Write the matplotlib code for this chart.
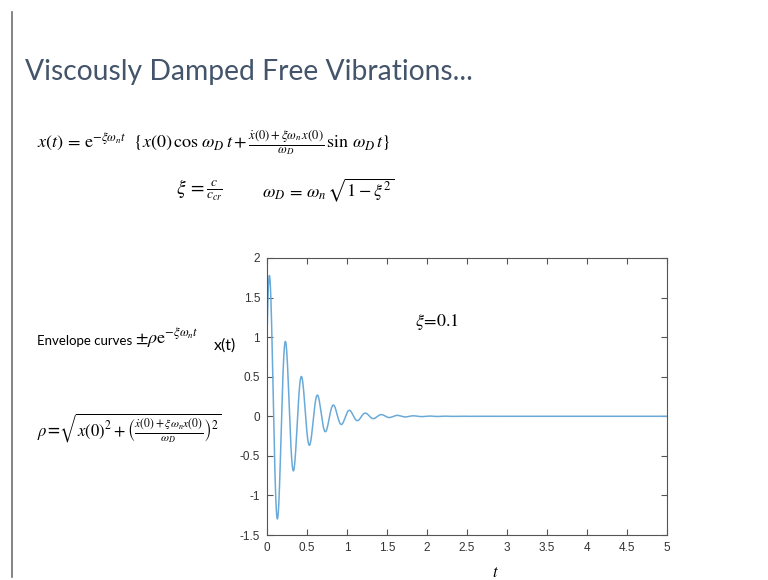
import numpy as np
import matplotlib
matplotlib.use("Agg")
import matplotlib.pyplot as plt
from matplotlib.lines import Line2D

zeta = 0.1          # damping ratio, written on the chart
omega_n = 31.6      # rad/s, period of about 0.2 s
x0 = 1.0            # initial displacement
v0 = 50.0           # initial velocity
t_end = 5.0

x_ticks = [0, 0.5, 1, 1.5, 2, 2.5, 3, 3.5, 4, 4.5, 5]
y_ticks = [-1.5, -1, -0.5, 0, 0.5, 1, 1.5, 2]

# response x(t) as given by the slide's equation
omega_d = omega_n * np.sqrt(1 - zeta**2)
t = np.linspace(0, t_end, 4000)
x = np.exp(-zeta * omega_n * t) * (
    x0 * np.cos(omega_d * t) + (v0 + zeta * omega_n * x0) / omega_d * np.sin(omega_d * t)
)

plt.rcParams['mathtext.fontset'] = 'stix'

fig = plt.figure(figsize=(7.68, 5.8), dpi=100)

# slide border on the left
fig.add_artist(Line2D([12 / 768, 12 / 768], [0.005, 1 - 12 / 580], color='#707070', lw=1.2))

# title
fig.text(25 / 768, 1 - 72 / 580, 'Viscously Damped Free Vibrations...', fontsize=20.3,
         family='Lato', color='#44546A', va='center', ha='left')

# equations
fig.text(37 / 768, 1 - 143 / 580,
         r'$x(t)\,=\,\mathrm{e}^{-\xi\omega_n t}\ \ \{x(0)\,\cos\,\omega_D\,t+'
         r'\frac{\dot{x}(0)+\xi\omega_n\,x(0)}{\omega_D}\,\sin\,\omega_D\,t\}$',
         fontsize=13, va='center', ha='left')
fig.text(176 / 768, 1 - 190 / 580, r'$\xi\,=\frac{c}{c_{cr}}$',
         fontsize=14, va='center', ha='left')
fig.text(262 / 768, 1 - 190 / 580, r'$\omega_D\,=\,\omega_n\,\sqrt{1-\xi^2}$',
         fontsize=13, va='center', ha='left')

fig.text(37 / 768, 1 - 341 / 580, 'Envelope curves', fontsize=9.5,
         family='Lato', va='center', ha='left')
fig.text(135 / 768, 1 - 338 / 580, r'$\pm\rho\mathrm{e}^{-\xi\omega_n t}$',
         fontsize=13, va='center', ha='left')
fig.text(37 / 768, 1 - 428 / 580,
         r'$\rho$=$\sqrt{x(0)^2+\left(\frac{\dot{x}(0)+\xi\omega_n x(0)}{\omega_D}\right)^2}$',
         fontsize=12, va='center', ha='left')

fig.text(214 / 768, 1 - 346 / 580, 'x(t)', fontsize=11.5, family='Lato',
         va='center', ha='left')

# plot area
ax = fig.add_axes([267 / 768, 1 - 535 / 580, 400 / 768, 277 / 580])
ax.plot(t, x, color='#6aaad8', lw=1.1)
ax.set_xlim(0, t_end)
ax.set_ylim(-1.5, 2)
ax.set_xticks(x_ticks)
ax.set_yticks(y_ticks)
ax.set_xticklabels([f'{v:g}' for v in x_ticks])
ax.set_yticklabels([f'{v:g}' for v in y_ticks])
ax.tick_params(direction='in', top=True, right=True, length=4, width=0.8,
               color='#555555', labelsize=8.5, labelcolor='#333333', pad=5)
for lab in ax.get_xticklabels() + ax.get_yticklabels():
    lab.set_family('Liberation Sans')
for s in ax.spines.values():
    s.set_color('#555555')
    s.set_linewidth(0.8)

ax.text(0.425, 0.769, r'$\xi\!=\!0.1$', transform=ax.transAxes, fontsize=13,
        va='center', ha='center')

fig.text(495 / 768, 1 - 572 / 580, r'$t$', fontsize=12, va='center', ha='center')

fig.savefig('out.png', dpi=100)
